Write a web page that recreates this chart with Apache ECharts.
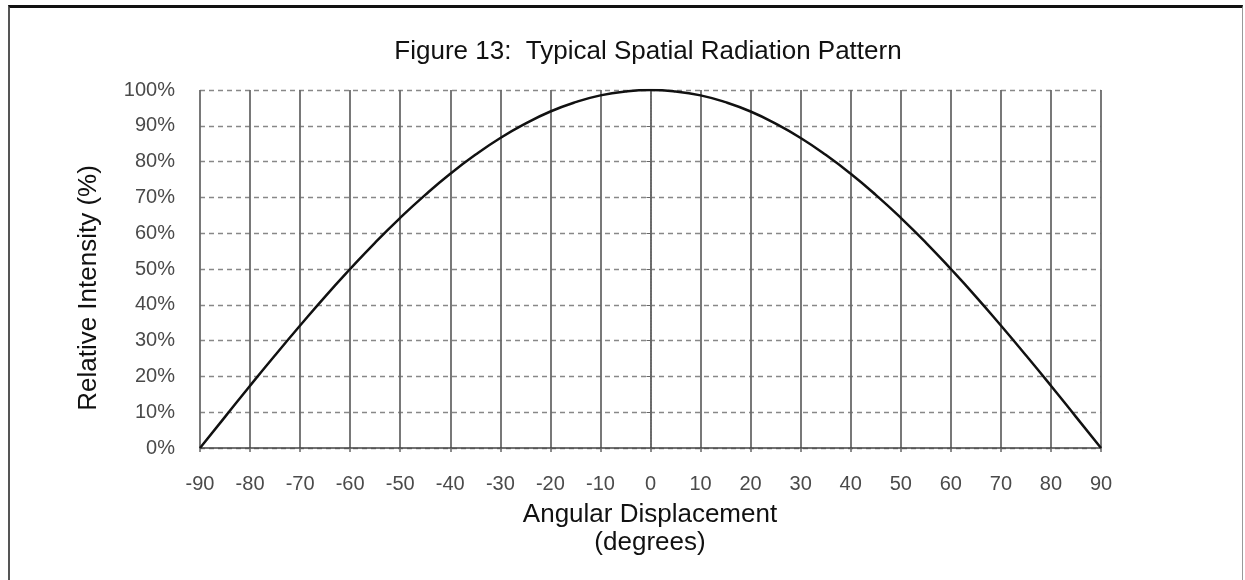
<!DOCTYPE html>
<html><head><meta charset="utf-8">
<script src="https://cdn.jsdelivr.net/npm/echarts@6/dist/echarts.min.js"></script>
<style>
html,body{margin:0;padding:0;background:#fff;}
#frame{position:absolute;left:8px;top:5px;width:1235px;height:580px;border-top:3px solid #111;border-left:2px solid #555;border-right:1px solid #999;box-sizing:border-box;}
#c{position:absolute;left:0;top:0;width:1245px;height:580px;}
</style></head>
<body>
<div id="frame"></div>
<div id="c"></div>
<script>
const angles = [-90,-85,-80,-75,-70,-65,-60,-55,-50,-45,-40,-35,-30,-25,-20,-15,-10,-5,0,5,10,15,20,25,30,35,40,45,50,55,60,65,70,75,80,85,90];
const intensity = [0,8.7,17.4,25.9,34.2,42.3,50,57.4,64.3,70.7,76.6,81.9,86.6,90.6,94,96.6,98.5,99.6,100,99.6,98.5,96.6,94,90.6,86.6,81.9,76.6,70.7,64.3,57.4,50,42.3,34.2,25.9,17.4,8.7,0];
const titleText = 'Figure 13:  Typical Spatial Radiation Pattern';
const yName = 'Relative Intensity (%)';
const xName = 'Angular Displacement\n(degrees)';

const FONT = 'Liberation Sans, Arial, sans-serif';
const chart = echarts.init(document.getElementById('c'), null, {renderer:'canvas'});
chart.setOption({
  backgroundColor: 'transparent',
  animation: false,
  title: {
    text: titleText, left: 648, top: 39, textAlign: 'center', padding: 0,
    textStyle: {fontFamily: FONT, fontSize: 26, fontWeight: 'normal', color: '#111'}
  },
  graphic: [
    {type: 'text', x: 89, y: 288, rotation: Math.PI / 2,
     style: {text: yName, font: '26px ' + FONT, fill: '#111', align: 'center', verticalAlign: 'middle'}},
    {type: 'text', x: 650, y: 529,
     style: {text: xName, font: '26px ' + FONT, fill: '#111', align: 'center', verticalAlign: 'middle', lineHeight: 28}}
  ],
  grid: {left: 200, right: 144, top: 90, bottom: 132, containLabel: false},
  xAxis: {
    type: 'value', min: -90, max: 90, interval: 10,
    axisLine: {show: true, lineStyle: {color: '#444', width: 1.5}},
    axisTick: {show: true, length: 4, lineStyle: {color: '#666', width: 1.5}},
    axisLabel: {fontFamily: FONT, fontSize: 20, color: '#4a4a4a', margin: 26},
    splitLine: {show: true, lineStyle: {color: '#6a6a6a', width: 1.8, type: 'solid'}}
  },
  yAxis: {
    type: 'value', min: 0, max: 100, interval: 10,
    axisLine: {show: true, lineStyle: {color: '#666', width: 1.5, type: 'dotted'}},
    axisTick: {show: true, length: 4, lineStyle: {color: '#666', width: 1}},
    axisLabel: {fontFamily: FONT, fontSize: 20, color: '#4a4a4a', margin: 25, formatter: '{value}%'},
    splitLine: {show: true, lineStyle: {color: '#888', width: 1.3, type: [5,4]}}
  },
  series: [{
    type: 'line', smooth: true, symbol: 'none',
    data: angles.map((a, i) => [a, intensity[i]]),
    lineStyle: {color: '#111', width: 2.5}
  }]
});
</script>
</body></html>
